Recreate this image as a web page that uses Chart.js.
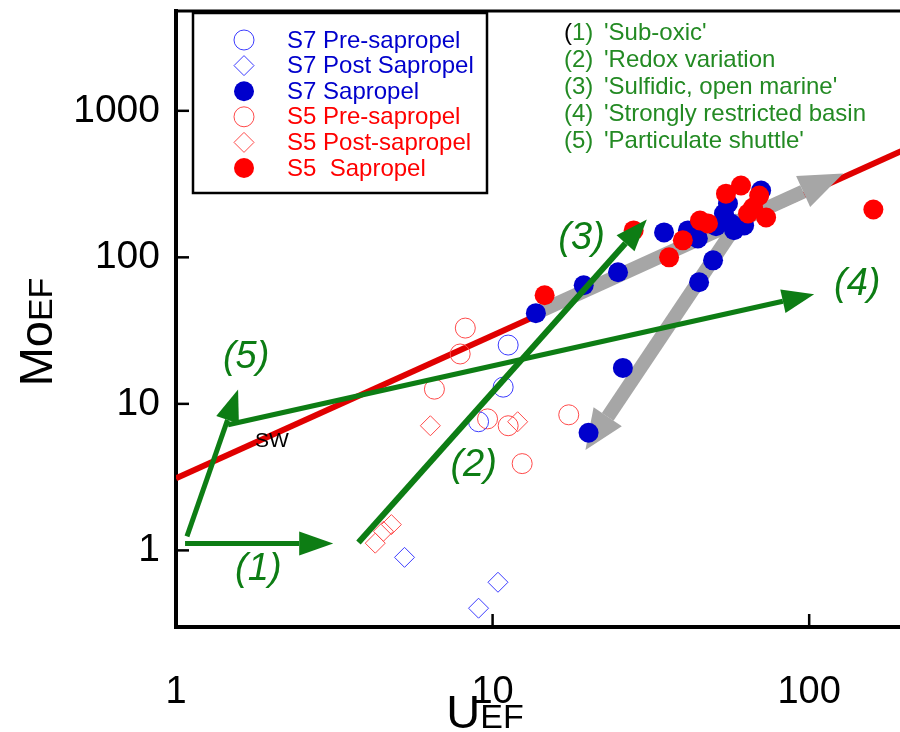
<!DOCTYPE html>
<html>
<head>
<meta charset="utf-8">
<script src="https://cdn.jsdelivr.net/npm/chart.js@4.4.1/dist/chart.umd.min.js"></script>
<style>
  html, body { margin: 0; padding: 0; background: #fff; overflow: hidden; }
  #wrap { width: 900px; height: 732px; overflow: hidden; }
</style>
</head>
<body>
<!-- canvas a bit wider than the view: the plot runs off the right edge of the figure -->
<div id="wrap"><canvas id="moChart" width="912" height="732"></canvas></div>
<script>
// U_EF vs Mo_EF (log-log)
const s7PreSapropel = [
    { x: 11.2, y: 25.2 }, { x: 10.8, y: 13.0 }, { x: 9.03, y: 7.55 }
];
const s7PostSapropel = [
    { x: 5.27, y: 0.896 }, { x: 10.4, y: 0.606 }, { x: 9.03, y: 0.403 }
];
const s7Sapropel = [
    { x: 13.7, y: 41.6 }, { x: 19.4, y: 64.5 }, { x: 24.9, y: 79.1 }, { x: 34.8, y: 148 },
    { x: 41.4, y: 152.6 }, { x: 44.5, y: 134.7 }, { x: 49.7, y: 95.4 }, { x: 44.9, y: 67.6 },
    { x: 25.8, y: 17.6 }, { x: 20.1, y: 6.35 }, { x: 70.5, y: 286 }, { x: 55.4, y: 233 },
    { x: 53.8, y: 199 }, { x: 56.6, y: 170 }, { x: 62.3, y: 165 }, { x: 57.9, y: 153 },
    { x: 50.8, y: 163 }
];
const s5PreSapropel = [
    { x: 8.2, y: 32.9 }, { x: 7.9, y: 21.9 }, { x: 6.55, y: 12.6 }, { x: 9.64, y: 7.9 },
    { x: 11.2, y: 7.09 }, { x: 17.4, y: 8.42 }, { x: 12.4, y: 3.91 }
];
const s5PostSapropel = [
    { x: 6.36, y: 7.09 }, { x: 12.0, y: 7.55 }, { x: 4.79, y: 1.50 }, { x: 4.52, y: 1.35 },
    { x: 4.26, y: 1.12 }
];
const s5Sapropel = [
    { x: 14.6, y: 55.1 }, { x: 27.9, y: 152.6 }, { x: 36.1, y: 100 }, { x: 39.9, y: 130.6 },
    { x: 45.2, y: 178.5 }, { x: 47.9, y: 170.4 }, { x: 54.6, y: 272 }, { x: 60.9, y: 309 },
    { x: 69.5, y: 264 }, { x: 66.5, y: 219 }, { x: 64.1, y: 199 }, { x: 73.1, y: 187 },
    { x: 159.5, y: 212 }
];

// seawater Mo/U line and the process arrows (start, shaft end)
const seawaterLine = [{ x: 1, y: 3.1 }, { x: 195, y: 530 }];
const arrowSubOxic = [{ x: 1.068, y: 1.116 }, { x: 2.45, y: 1.116 }];
const arrowShuttle = [{ x: 1.083, y: 1.245 }, { x: 1.455, y: 7.78 }];
const arrowRestricted = [{ x: 1.46, y: 7.2 }, { x: 82.6, y: 50.2 }];
const arrowSulfidic = [{ x: 3.77, y: 1.13 }, { x: 26.3, y: 124.7 }];
const greyTrendUp = [{ x: 13.7, y: 41.6 }, { x: 95.7, y: 281 }];
const greyTrendDown = [{ x: 61, y: 187 }, { x: 23.1, y: 8.16 }];

const uTicks = [1, 10, 100];
const moTicks = [1, 10, 100, 1000];

const legendLabels = ['S7 Pre-sapropel', 'S7 Post Sapropel', 'S7 Sapropel',
    'S5 Pre-sapropel', 'S5 Post-sapropel', 'S5  Sapropel'];
const processLabels = ["'Sub-oxic'", "'Redox variation", "'Sulfidic, open marine'",
    "'Strongly restricted basin", "'Particulate shuttle'"];
// where the (n) labels and SW sit, in data units
const arrowLabels = [
    { text: '(1)', x: 1.82, y: 0.743 },
    { text: '(2)', x: 8.71, y: 3.79 },
    { text: '(3)', x: 19.1, y: 134.7 },
    { text: '(4)', x: 141.9, y: 65.5 },
    { text: '(5)', x: 1.665, y: 20.9 }
];
const swLabel = { text: 'SW', x: 2.01, y: 5.6 };

const FONT = '"Liberation Sans", Arial, Helvetica, sans-serif';
const BLUE = '#0000cc';
const RED = '#ff0000';
const GREEN_ARROW = '#0d7d14';
const GREEN_TEXT = '#238a23';
const GREY = '#a6a6a6';

// arrowheads drawn right after their own shaft so points can sit on top
const arrowHeadPlugin = {
    id: 'arrowHead',
    afterDatasetDraw(chart, args) {
        const ds = chart.data.datasets[args.index];
        if (!ds.arrowHead) return;
        const pts = args.meta.data;
        const a = pts[pts.length - 2], b = pts[pts.length - 1];
        const dx = b.x - a.x, dy = b.y - a.y;
        const len = Math.hypot(dx, dy);
        const ux = dx / len, uy = dy / len;
        const L = ds.arrowHead.length, W = ds.arrowHead.half;
        const ctx = chart.ctx;
        ctx.save();
        ctx.fillStyle = ds.borderColor;
        ctx.beginPath();
        ctx.moveTo(b.x + ux * L, b.y + uy * L);
        ctx.lineTo(b.x - uy * W, b.y + ux * W);
        ctx.lineTo(b.x + uy * W, b.y - ux * W);
        ctx.closePath();
        ctx.fill();
        ctx.restore();
    }
};

function drawMarker(ctx, style, x, y, r, fill, stroke) {
    ctx.beginPath();
    if (style === 'rectRot') {
        ctx.moveTo(x, y - r);
        ctx.lineTo(x + r, y);
        ctx.lineTo(x, y + r);
        ctx.lineTo(x - r, y);
        ctx.closePath();
    } else {
        ctx.arc(x, y, r, 0, Math.PI * 2);
    }
    if (fill) { ctx.fillStyle = fill; ctx.fill(); }
    if (stroke) { ctx.strokeStyle = stroke; ctx.lineWidth = 1; ctx.stroke(); }
}

const decorPlugin = {
    id: 'decor',
    afterDraw(chart) {
        const ctx = chart.ctx;
        const xs = chart.scales.x, ys = chart.scales.y;
        const area = chart.chartArea;
        ctx.save();

        // top frame line and inward ticks
        ctx.strokeStyle = '#000';
        ctx.lineWidth = 3;
        ctx.beginPath();
        ctx.moveTo(area.left, area.top);
        ctx.lineTo(chart.width, area.top);
        ctx.stroke();
        ctx.lineWidth = 2.5;
        moTicks.forEach(v => {
            const py = ys.getPixelForValue(v);
            ctx.beginPath();
            ctx.moveTo(area.left, py);
            ctx.lineTo(area.left + 13, py);
            ctx.stroke();
        });
        uTicks.slice(1).forEach(v => {
            const px = xs.getPixelForValue(v);
            ctx.beginPath();
            ctx.moveTo(px, area.bottom);
            ctx.lineTo(px, area.bottom - 13);
            ctx.stroke();
        });

        // (n) labels and SW
        ctx.textAlign = 'center';
        ctx.textBaseline = 'middle';
        ctx.fillStyle = GREEN_ARROW;
        ctx.font = 'italic 38px ' + FONT;
        arrowLabels.forEach(l => {
            ctx.fillText(l.text, xs.getPixelForValue(l.x), ys.getPixelForValue(l.y));
        });
        ctx.fillStyle = '#000';
        ctx.font = '21px ' + FONT;
        ctx.fillText(swLabel.text, xs.getPixelForValue(swLabel.x), ys.getPixelForValue(swLabel.y));

        // legend box
        ctx.fillStyle = '#fff';
        ctx.fillRect(193, 13, 294, 180);
        ctx.strokeStyle = '#000';
        ctx.lineWidth = 2.5;
        ctx.strokeRect(193, 13, 294, 180);
        ctx.textAlign = 'left';
        ctx.font = '24px ' + FONT;
        const seriesSets = chart.data.datasets.filter(d => d.legendIndex !== undefined)
            .sort((p, q) => p.legendIndex - q.legendIndex);
        seriesSets.forEach((d, i) => {
            const cy = 40 + i * 25.6;
            const filled = d.backgroundColor !== 'rgba(0,0,0,0)';
            drawMarker(ctx, d.pointStyle, 244, cy, 10,
                filled ? d.backgroundColor : null, filled ? null : d.borderColor);
            ctx.fillStyle = d.textColor;
            ctx.fillText(legendLabels[i], 287, cy + 1);
        });

        // process list at top right
        ctx.font = '24px ' + FONT;
        processLabels.forEach((t, i) => {
            const cy = 33 + i * 27;
            const num = '(' + (i + 1) + ')';
            if (i === 0) {
                ctx.fillStyle = '#000';
                ctx.fillText('(', 564, cy);
                ctx.fillStyle = GREEN_TEXT;
                ctx.fillText(num.slice(1), 564 + ctx.measureText('(').width, cy);
            } else {
                ctx.fillStyle = GREEN_TEXT;
                ctx.fillText(num, 564, cy);
            }
            ctx.fillText(t, 604, cy);
        });

        // axis titles with small-caps subscripts
        ctx.fillStyle = '#000';
        ctx.textBaseline = 'alphabetic';
        const big = '47px ' + FONT, small = '34px ' + FONT;
        ctx.font = big;
        const wU = ctx.measureText('U').width;
        ctx.font = small;
        const wEF = ctx.measureText('EF').width;
        let sx = 485 - (wU + wEF) / 2;
        ctx.font = big;
        ctx.fillText('U', sx, 728);
        ctx.font = small;
        ctx.fillText('EF', sx + wU, 728);

        ctx.translate(52, 332);
        ctx.rotate(-Math.PI / 2);
        ctx.font = big;
        const wMo = ctx.measureText('Mo').width;
        sx = -(wMo + wEF) / 2;
        ctx.fillText('Mo', sx, 0);
        ctx.font = small;
        ctx.fillText('EF', sx + wMo, 0);
        ctx.restore();
    }
};

const ctx = document.getElementById('moChart').getContext('2d');
new Chart(ctx, {
    type: 'scatter',
    data: {
        datasets: [
            { data: seawaterLine, showLine: true, borderColor: '#e00000', borderWidth: 6, pointRadius: 0, order: 9 },
            { data: greyTrendUp, showLine: true, borderColor: GREY, borderWidth: 14, pointRadius: 0, order: 8,
              arrowHead: { length: 44, half: 17 } },
            { data: greyTrendDown, showLine: true, borderColor: GREY, borderWidth: 14, pointRadius: 0, order: 8,
              arrowHead: { length: 40, half: 17 } },
            { data: s7PreSapropel, pointStyle: 'circle', pointRadius: 10, backgroundColor: 'rgba(0,0,0,0)',
              borderColor: '#3b3bff', borderWidth: 1, order: 5, legendIndex: 0, textColor: BLUE },
            { data: s7PostSapropel, pointStyle: 'rectRot', pointRadius: 10, backgroundColor: 'rgba(0,0,0,0)',
              borderColor: '#3b3bff', borderWidth: 1, order: 5, legendIndex: 1, textColor: BLUE },
            { data: s5PreSapropel, pointStyle: 'circle', pointRadius: 10, backgroundColor: 'rgba(0,0,0,0)',
              borderColor: '#ff4a4a', borderWidth: 1, order: 5, legendIndex: 3, textColor: RED },
            { data: s5PostSapropel, pointStyle: 'rectRot', pointRadius: 10, backgroundColor: 'rgba(0,0,0,0)',
              borderColor: '#ff4a4a', borderWidth: 1, order: 5, legendIndex: 4, textColor: RED },
            { data: s7Sapropel, pointStyle: 'circle', pointRadius: 10, backgroundColor: BLUE,
              borderColor: BLUE, borderWidth: 0, order: 4, legendIndex: 2, textColor: BLUE },
            { data: s5Sapropel, pointStyle: 'circle', pointRadius: 10, backgroundColor: RED,
              borderColor: RED, borderWidth: 0, order: 3, legendIndex: 5, textColor: RED },
            { data: arrowSubOxic, showLine: true, borderColor: GREEN_ARROW, borderWidth: 5, pointRadius: 0, order: 1,
              arrowHead: { length: 34, half: 12 } },
            { data: arrowShuttle, showLine: true, borderColor: GREEN_ARROW, borderWidth: 5, pointRadius: 0, order: 1,
              arrowHead: { length: 32, half: 12 } },
            { data: arrowRestricted, showLine: true, borderColor: GREEN_ARROW, borderWidth: 5, pointRadius: 0, order: 1,
              arrowHead: { length: 32, half: 12 } },
            { data: arrowSulfidic, showLine: true, borderColor: GREEN_ARROW, borderWidth: 6, pointRadius: 0, order: 1,
              arrowHead: { length: 32, half: 12 } }
        ]
    },
    options: {
        responsive: false,
        animation: false,
        layout: { padding: { top: 10, right: 0, left: 0, bottom: 0 } },
        plugins: { legend: { display: false }, tooltip: { enabled: false } },
        scales: {
            x: {
                type: 'logarithmic', min: 1, max: 195,
                afterBuildTicks: s => { s.ticks = uTicks.map(v => ({ value: v })); },
                afterFit: s => { s.height = 105; s.paddingLeft = 0; s.paddingRight = 0; },
                ticks: { font: { size: 38, family: FONT }, color: '#000', padding: 43,
                         maxRotation: 0, autoSkip: false, callback: v => String(v) },
                grid: { drawOnChartArea: false, drawTicks: false },
                border: { display: true, color: '#000', width: 4 }
            },
            y: {
                type: 'logarithmic', min: 0.3, max: 4800,
                afterBuildTicks: s => { s.ticks = moTicks.map(v => ({ value: v })); },
                afterFit: s => { s.width = 176; s.paddingTop = 0; s.paddingBottom = 0; },
                ticks: { font: { size: 39, family: FONT }, color: '#000', padding: 16,
                         autoSkip: false, callback: v => String(v) },
                grid: { drawOnChartArea: false, drawTicks: false },
                border: { display: true, color: '#000', width: 4 }
            }
        }
    },
    plugins: [arrowHeadPlugin, decorPlugin]
});
</script>
</body>
</html>
